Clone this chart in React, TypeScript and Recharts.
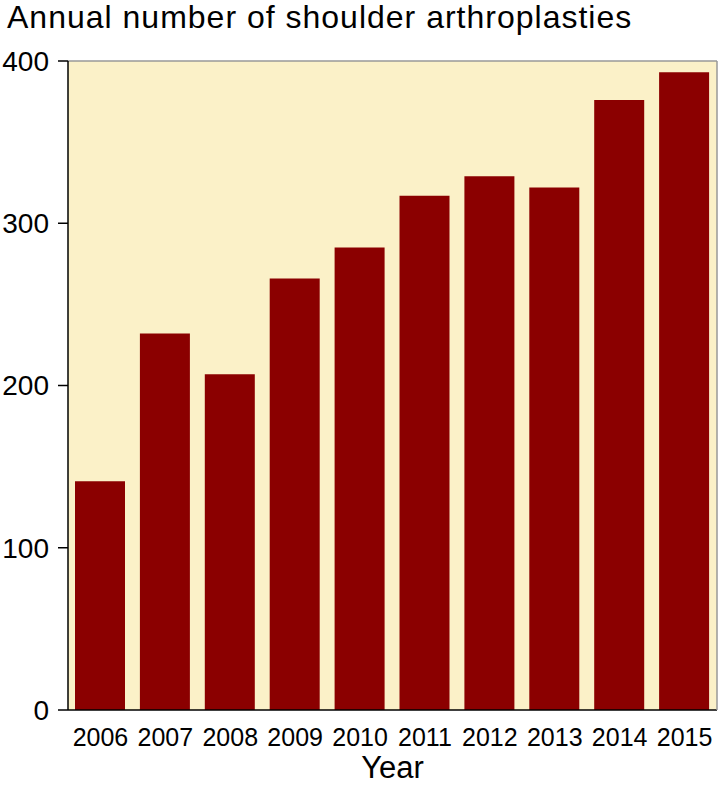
import React from 'react';
import { BarChart, Bar, XAxis, YAxis, CartesianGrid, ReferenceLine, Label } from 'recharts';

const years = ['2006', '2007', '2008', '2009', '2010', '2011', '2012', '2013', '2014', '2015'];
const counts = [141, 232, 207, 266, 285, 317, 329, 322, 376, 393];
const yTicks = [0, 100, 200, 300, 400];

const data = years.map((year, i) => ({ year, count: counts[i] }));

const FONT = '"Liberation Sans", Arial, Helvetica, sans-serif';

export default function App() {
  return (
    <div style={{ position: 'absolute', left: 0, top: 0, width: 719, height: 788, background: '#fff', fontFamily: FONT }}>
      <div
        style={{
          position: 'absolute',
          left: 7,
          top: 1,
          fontSize: 32,
          lineHeight: '32px',
          letterSpacing: 1,
          color: '#000',
          whiteSpace: 'nowrap',
        }}
      >
        Annual number of shoulder arthroplasties
      </div>
      <BarChart
        width={719}
        height={788}
        data={data}
        margin={{ top: 61, right: 0, bottom: 0, left: 0 }}
      >
        <CartesianGrid fill="#fbf1c8" horizontal={false} vertical={false} />
        <XAxis
          dataKey="year"
          height={78}
          tickLine={false}
          tickSize={0}
          tickMargin={18}
          axisLine={{ stroke: '#000', strokeWidth: 1.5 }}
          tick={{ fill: '#000', fontSize: 25, fontFamily: FONT }}
          interval={0}
        >
          <Label value="Year" position="insideBottom" offset={10} fill="#000" fontSize={31} fontFamily={FONT} />
        </XAxis>
        <YAxis
          width={68}
          domain={[0, 400]}
          ticks={yTicks}
          tickSize={10}
          tickMargin={9}
          tickLine={{ stroke: '#000', strokeWidth: 1.5 }}
          axisLine={{ stroke: '#000', strokeWidth: 1.5 }}
          tick={{ fill: '#000', fontSize: 28, fontFamily: FONT }}
          allowDataOverflow
        />
        <YAxis
          yAxisId="right"
          orientation="right"
          width={2}
          tick={false}
          tickLine={false}
          axisLine={{ stroke: '#999', strokeWidth: 1.5 }}
          domain={[0, 400]}
        />
        <ReferenceLine y={400} stroke="#999" strokeWidth={1.5} />
        <Bar dataKey="count" fill="#8b0000" barSize={50} isAnimationActive={false} />
      </BarChart>
    </div>
  );
}
